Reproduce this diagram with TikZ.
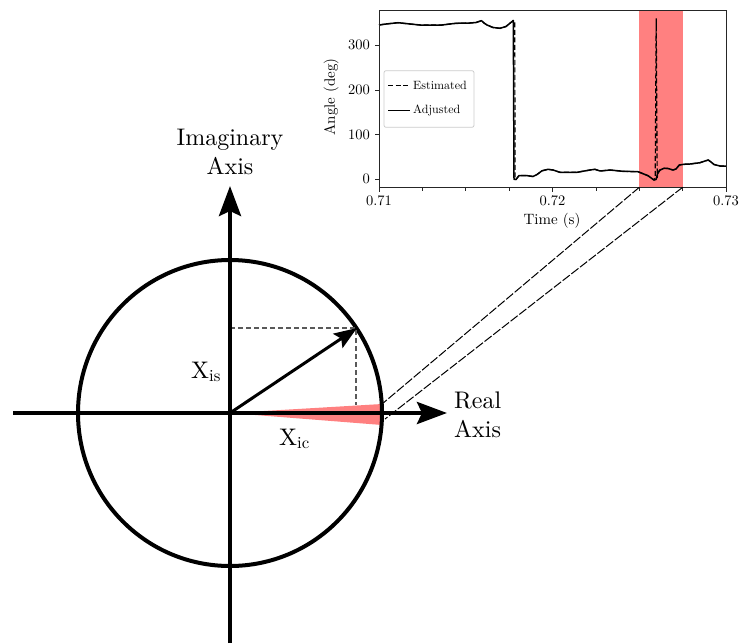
\documentclass[tikz,border=0pt]{standalone}
\usepackage{fontspec}
\setmainfont{lmroman10-regular.otf}
\usetikzlibrary{arrows.meta}
\definecolor{bandred}{HTML}{FF8080}
\begin{document}
\begin{tikzpicture}[x=1pt,y=-1pt,
  axisline/.style={line width=4pt,-{Stealth[length=30pt,width=22pt,inset=5pt]}},
  vecline/.style={line width=3pt,-{Stealth[length=23pt,width=17pt,inset=4pt]}},
  circline/.style={line width=4pt},
  projline/.style={draw=black!65,line width=1.1pt,dash pattern=on 5pt off 3pt},
  zoomline/.style={line width=1pt,dash pattern=on 9pt off 2pt},
  bigtext/.style={font=\fontsize{24}{29}\selectfont,inner sep=0pt},
  ticklbl/.style={font=\fontsize{14.5}{16}\selectfont,inner sep=0pt},
  axlbl/.style={font=\fontsize{15}{17}\selectfont,inner sep=0pt},
  legtext/.style={font=\fontsize{12}{14}\selectfont,inner sep=0pt},
  curvesolid/.style={line width=1.5pt,line join=round},
  curvedash/.style={line width=1.2pt,dash pattern=on 5pt off 2.5pt},
  frame/.style={draw=black!85,line width=0.9pt},
  tickmark/.style={draw=black!85,line width=0.8pt}]
\useasboundingbox (0,0) rectangle (739,643);

% ---------- phasor diagram ----------
\coordinate (O) at (230,413);
\coordinate (wedgeT) at (382,404);
\coordinate (wedgeB) at (382,425);
\coordinate (hstart) at (13,413);
\coordinate (htip) at (447,413);
\coordinate (vstart) at (230,643);
\coordinate (vtip) at (230,186);
\coordinate (P) at (357,328);
\coordinate (Py) at (230,328);
\coordinate (Px) at (356,405);
\coordinate (Pc) at (356,328);

\fill[bandred] (O) -- (wedgeT) -- (wedgeB) -- cycle;
\draw[circline] (O) ellipse[x radius=152, y radius=153];
\draw[projline] (Py) -- (Pc) -- (Px);
\draw[axisline] (hstart) -- (htip);
\draw[axisline] (vstart) -- (vtip);
\draw[vecline] (O) -- (P);

\node[bigtext,align=center] (imlbl) at (230,152) {Imaginary\\Axis};
\node[bigtext,align=left,anchor=west] (relbl) at (454,415) {Real\\Axis};
\node[bigtext,anchor=base west] (xis) at (191,378) {X\textsubscript{is}};
\node[bigtext,anchor=base west] (xic) at (279,445) {X\textsubscript{ic}};

% ---------- inset plot ----------
\coordinate (frameTL) at (379,10.3);
\coordinate (frameBR) at (726,187.3);
\coordinate (bandTL) at (639.3,10.3);
\coordinate (bandBL) at (639.3,187.3);
\coordinate (bandBR) at (682.6,187.3);

\fill[bandred] (bandTL) rectangle (bandBR);

% estimated (dashed)
\draw[curvedash] (379,25) -- (386,24) -- (398,22.7) -- (410,24) -- (420,25) -- (442,25) -- (450,24) -- (456,23.3) -- (470,23) -- (476,22.5) -- (481.5,20.7) -- (484,23) -- (487,25) -- (493,27.5) -- (500,28.3) -- (506,26.5) -- (513.3,20.5) -- (514.8,21) -- (515,179.3) -- (516,179.5) -- (519,175.5) -- (526,175.5) -- (533,176.5) -- (537,174.5) -- (542,170.8) -- (548,169.3) -- (553,170) -- (560,172.3) -- (577,172.3) -- (590,170) -- (595,169.3) -- (600,171) -- (610,170) -- (623,171.3) -- (638,171.7) -- (648,175.7) -- (654,180) -- (655.2,178) -- (656.2,18.3) -- (657.2,178) -- (658,172) -- (660,170) -- (664,168.3) -- (668,168.5) -- (673,170) -- (676,169) -- (679.3,165) -- (684,164.3) -- (690,164) -- (700,162.7) -- (705,161) -- (708.3,160) -- (711,162) -- (714,164.5) -- (720,166) -- (726,166);

% adjusted (solid)
\draw[curvesolid] (379,25) -- (386,24) -- (398,22.7) -- (410,24) -- (420,25) -- (442,25) -- (450,24) -- (456,23.3) -- (470,23) -- (476,22.5) -- (481.5,20.7) -- (484,23) -- (487,25) -- (493,27.5) -- (500,28.3) -- (506,26.5) -- (513.3,20.5) -- (514,179.3) -- (516,179.5) -- (519,175.5) -- (526,175.5) -- (533,176.5) -- (537,174.5) -- (542,170.8) -- (548,169.3) -- (553,170) -- (560,172.3) -- (577,172.3) -- (590,170) -- (595,169.3) -- (600,171) -- (610,170) -- (623,171.3) -- (638,171.7) -- (648,175.7) -- (654,180) -- (656,179.5) -- (657.5,174) -- (660,170) -- (664,168.3) -- (668,168.5) -- (673,170) -- (676,169) -- (679.3,165) -- (684,164.3) -- (690,164) -- (700,162.7) -- (705,161) -- (708.3,160) -- (711,162) -- (714,164.5) -- (720,166) -- (726,166);

\draw[frame] (frameTL) rectangle (frameBR);

% x ticks
\foreach \x in {379,552.5,726} \draw[tickmark] (\x,187.3) -- ++(0,5);
\foreach \x in {422.4,465.8,509.1,595.9,639.3,682.6} \draw[tickmark] (\x,187.3) -- ++(0,3.5);
\node[ticklbl] (tx1) at (379,201) {0.71};
\node[ticklbl] (tx2) at (552.5,201) {0.72};
\node[ticklbl] (tx3) at (726,201) {0.73};
\node[axlbl] (xlab) at (552,221) {Time (s)};

% y ticks
\foreach \y in {179.3,134.6,89.9,45.2} \draw[tickmark] (379,\y) -- ++(-4,0);
\node[ticklbl,anchor=east] (ty0) at (370,179.3) {0};
\node[ticklbl,anchor=east] (ty1) at (370,134.6) {100};
\node[ticklbl,anchor=east] (ty2) at (370,89.9) {200};
\node[ticklbl,anchor=east] (ty3) at (370,45.2) {300};
\node[axlbl,rotate=90] (ylab) at (331,97) {Angle (deg)};

% legend
\draw[draw=black!20,fill=white,fill opacity=0.8,rounded corners=2pt,line width=0.8pt] (384,70.7) rectangle (474,127.3);
\coordinate (l1a) at (388,85.7); \coordinate (l1b) at (410,85.7);
\coordinate (l2a) at (388,110.7); \coordinate (l2b) at (410,110.7);
\draw[curvedash] (l1a) -- (l1b);
\draw[curvesolid] (l2a) -- (l2b);
\node[legtext,anchor=west] (lg1) at (413,85.7) {Estimated};
\node[legtext,anchor=west] (lg2) at (413,110.7) {Adjusted};

% zoom connectors
\draw[zoomline] (bandBL) -- (wedgeT);
\draw[zoomline] (bandBR) -- (385,419);
\end{tikzpicture}
\end{document}
